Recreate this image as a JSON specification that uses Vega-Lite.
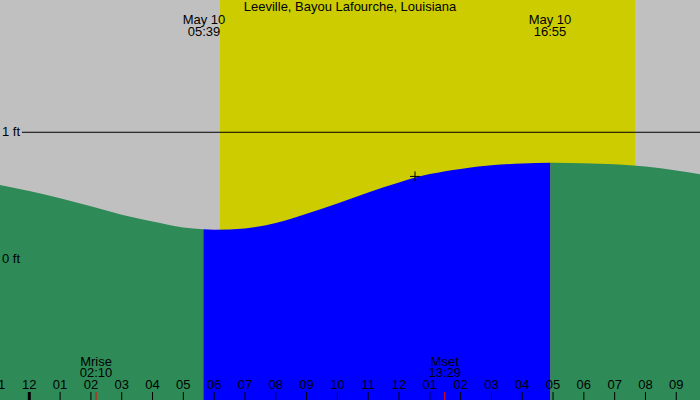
{
  "$schema": "https://vega.github.io/schema/vega-lite/v6.json",
  "width": 700,
  "height": 400,
  "autosize": {"type": "none"},
  "padding": 0,
  "background": "#C0C0C0",
  "config": {"view": {"stroke": null}, "text": {"font": "Liberation Sans", "fontSize": 13, "color": "black"}},
  "datasets": {
    "bands": [{"h": 6.19, "h2": 19.66, "kind": "day"}],
    "tide": [
      {"seg": "n1", "period": "night", "h": -1, "ft": 0.588},
      {"seg": "n1", "period": "night", "h": 0, "ft": 0.538},
      {"seg": "n1", "period": "night", "h": 1, "ft": 0.481},
      {"seg": "n1", "period": "night", "h": 2, "ft": 0.418},
      {"seg": "n1", "period": "night", "h": 3, "ft": 0.352},
      {"seg": "n1", "period": "night", "h": 4, "ft": 0.298},
      {"seg": "n1", "period": "night", "h": 5, "ft": 0.252},
      {"seg": "n1", "period": "night", "h": 5.65, "ft": 0.237},
      {"seg": "d", "period": "day", "h": 5.65, "ft": 0.237},
      {"seg": "d", "period": "day", "h": 6, "ft": 0.233},
      {"seg": "d", "period": "day", "h": 7, "ft": 0.244},
      {"seg": "d", "period": "day", "h": 8, "ft": 0.286},
      {"seg": "d", "period": "day", "h": 9, "ft": 0.36},
      {"seg": "d", "period": "day", "h": 10, "ft": 0.44},
      {"seg": "d", "period": "day", "h": 11, "ft": 0.527},
      {"seg": "d", "period": "day", "h": 12, "ft": 0.606},
      {"seg": "d", "period": "day", "h": 13, "ft": 0.671},
      {"seg": "d", "period": "day", "h": 14, "ft": 0.712},
      {"seg": "d", "period": "day", "h": 15, "ft": 0.74},
      {"seg": "d", "period": "day", "h": 16, "ft": 0.754},
      {"seg": "d", "period": "day", "h": 16.917, "ft": 0.76},
      {"seg": "n2", "period": "night", "h": 16.917, "ft": 0.76},
      {"seg": "n2", "period": "night", "h": 17, "ft": 0.761},
      {"seg": "n2", "period": "night", "h": 18, "ft": 0.757},
      {"seg": "n2", "period": "night", "h": 19, "ft": 0.748},
      {"seg": "n2", "period": "night", "h": 20, "ft": 0.73},
      {"seg": "n2", "period": "night", "h": 21, "ft": 0.7},
      {"seg": "n2", "period": "night", "h": 22, "ft": 0.66}
    ],
    "ticks": [
      {"h": -1, "label": "11", "kind": "hour"},
      {"h": 0, "label": "12", "kind": "midnight"},
      {"h": 1, "label": "01", "kind": "hour"},
      {"h": 2, "label": "02", "kind": "hour"},
      {"h": 3, "label": "03", "kind": "hour"},
      {"h": 4, "label": "04", "kind": "hour"},
      {"h": 5, "label": "05", "kind": "hour"},
      {"h": 6, "label": "06", "kind": "hour"},
      {"h": 7, "label": "07", "kind": "hour"},
      {"h": 8, "label": "08", "kind": "hour"},
      {"h": 9, "label": "09", "kind": "hour"},
      {"h": 10, "label": "10", "kind": "hour"},
      {"h": 11, "label": "11", "kind": "hour"},
      {"h": 12, "label": "12", "kind": "hour"},
      {"h": 13, "label": "01", "kind": "hour"},
      {"h": 14, "label": "02", "kind": "hour"},
      {"h": 15, "label": "03", "kind": "hour"},
      {"h": 16, "label": "04", "kind": "hour"},
      {"h": 17, "label": "05", "kind": "hour"},
      {"h": 18, "label": "06", "kind": "hour"},
      {"h": 19, "label": "07", "kind": "hour"},
      {"h": 20, "label": "08", "kind": "hour"},
      {"h": 21, "label": "09", "kind": "hour"},
      {"h": 2.167, "label": "", "kind": "moon"},
      {"h": 13.483, "label": "", "kind": "moon"}
    ],
    "labels": [
      {"h": 10.41, "ft": 1.985, "text": "Leeville, Bayou Lafourche, Louisiana", "group": "center"},
      {"h": 5.67, "ft": 1.883, "text": "May 10", "group": "center"},
      {"h": 5.67, "ft": 1.789, "text": "05:39", "group": "center"},
      {"h": 16.9, "ft": 1.883, "text": "May 10", "group": "center"},
      {"h": 16.9, "ft": 1.789, "text": "16:55", "group": "center"},
      {"h": 2.167, "ft": -0.803, "text": "Mrise", "group": "center"},
      {"h": 2.167, "ft": -0.895, "text": "02:10", "group": "center"},
      {"h": 13.483, "ft": -0.803, "text": "Mset", "group": "center"},
      {"h": 13.483, "ft": -0.895, "text": "13:29", "group": "center"},
      {"h": -0.886, "ft": 1.0, "text": "1 ft", "group": "left"},
      {"h": -0.886, "ft": 0.0, "text": "0 ft", "group": "left"}
    ],
    "marker": [{"h": 12.52, "ft": 0.653}]
  },
  "layer": [
    {
      "data": {"name": "bands"},
      "mark": {"type": "rect", "color": "#CCCC00"},
      "encoding": {
        "x": {"field": "h", "type": "quantitative", "scale": {"domain": [-0.951, 21.77], "nice": false, "zero": false}, "axis": null},
        "x2": {"field": "h2"}
      }
    },
    {
      "data": {"name": "tide"},
      "mark": {"type": "area", "interpolate": "monotone"},
      "encoding": {
        "x": {"field": "h", "type": "quantitative", "scale": {"domain": [-0.951, 21.77], "nice": false, "zero": false}, "axis": null},
        "y": {"field": "ft", "type": "quantitative", "scale": {"domain": [-1.105, 2.04], "nice": false, "zero": false}, "axis": null},
        "y2": {"datum": -1.105},
        "detail": {"field": "seg"},
        "color": {"field": "period", "type": "nominal", "scale": {"domain": ["day", "night"], "range": ["#0000FF", "#2E8B57"]}, "legend": null}
      }
    },
    {
      "data": {"values": [{"h": -0.237, "h2": 21.77, "ft": 1.0}]},
      "mark": {"type": "rule", "color": "black", "strokeWidth": 1},
      "encoding": {
        "x": {"field": "h", "type": "quantitative"},
        "x2": {"field": "h2"},
        "y": {"field": "ft", "type": "quantitative"}
      }
    },
    {
      "data": {"name": "ticks"},
      "transform": [{"filter": "datum.kind === 'hour'"}],
      "mark": {"type": "rule", "color": "black", "strokeWidth": 1},
      "encoding": {
        "x": {"field": "h", "type": "quantitative"},
        "y": {"datum": -1.042},
        "y2": {"datum": -1.105}
      }
    },
    {
      "data": {"name": "ticks"},
      "transform": [{"filter": "datum.kind === 'midnight'"}],
      "mark": {"type": "rule", "color": "black", "strokeWidth": 3},
      "encoding": {
        "x": {"field": "h", "type": "quantitative"},
        "y": {"datum": -1.042},
        "y2": {"datum": -1.105}
      }
    },
    {
      "data": {"name": "ticks"},
      "transform": [{"filter": "datum.kind === 'moon'"}],
      "mark": {"type": "rule", "color": "#FF0000", "strokeWidth": 1},
      "encoding": {
        "x": {"field": "h", "type": "quantitative"},
        "y": {"datum": -1.042},
        "y2": {"datum": -1.105}
      }
    },
    {
      "data": {"name": "ticks"},
      "transform": [{"filter": "datum.kind !== 'moon'"}],
      "mark": {"type": "text", "baseline": "middle", "align": "center"},
      "encoding": {
        "x": {"field": "h", "type": "quantitative"},
        "y": {"datum": -0.987},
        "text": {"field": "label"}
      }
    },
    {
      "data": {"name": "labels"},
      "transform": [{"filter": "datum.group === 'center'"}],
      "mark": {"type": "text", "baseline": "middle", "align": "center"},
      "encoding": {
        "x": {"field": "h", "type": "quantitative"},
        "y": {"field": "ft", "type": "quantitative"},
        "text": {"field": "text"}
      }
    },
    {
      "data": {"name": "labels"},
      "transform": [{"filter": "datum.group === 'left'"}],
      "mark": {"type": "text", "baseline": "middle", "align": "left"},
      "encoding": {
        "x": {"field": "h", "type": "quantitative"},
        "y": {"field": "ft", "type": "quantitative"},
        "text": {"field": "text"}
      }
    },
    {
      "data": {"name": "marker"},
      "mark": {"type": "point", "shape": "M-1,0L1,0M0,-1L0,1", "size": 100, "filled": false, "stroke": "black", "strokeWidth": 1, "opacity": 1},
      "encoding": {
        "x": {"field": "h", "type": "quantitative"},
        "y": {"field": "ft", "type": "quantitative"}
      }
    }
  ]
}
